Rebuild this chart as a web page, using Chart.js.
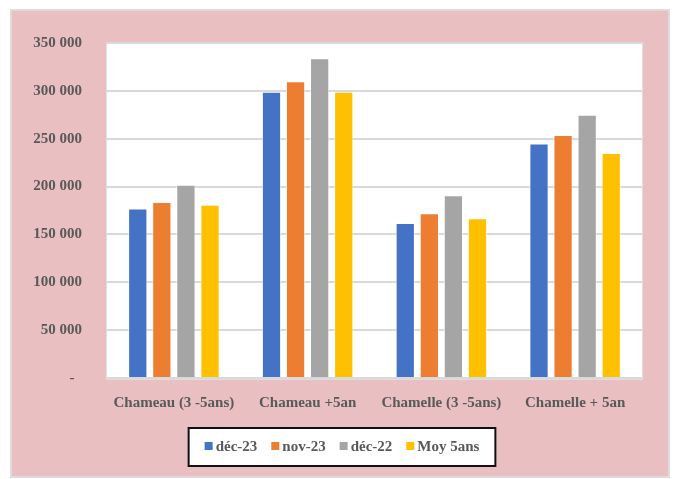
<!DOCTYPE html>
<html>
<head>
<meta charset="utf-8">
<script src="https://cdn.jsdelivr.net/npm/chart.js@4.4.1/dist/chart.umd.min.js"></script>
<style>
  html, body { margin: 0; padding: 0; background: #ffffff; }
  #wrap { width: 674px; height: 479px; position: relative; }
</style>
</head>
<body>
<div id="wrap"><canvas id="chart" width="674" height="479"></canvas></div>
<script>
const categories = ['Chameau (3 -5ans)', 'Chameau +5an', 'Chamelle (3 -5ans)', 'Chamelle + 5an'];
const dec23 = [177000, 299000, 162000, 245000];
const nov23 = [184000, 310000, 172000, 254000];
const dec22 = [202000, 334000, 191000, 275000];
const moy5ans = [181000, 299000, 167000, 235000];
const seriesNames = ['déc-23', 'nov-23', 'déc-22', 'Moy 5ans'];
const colours = ['#4472c4', '#ed7d31', '#a5a5a5', '#ffc000'];

const textColour = '#595959';
const fontFamily = '"Liberation Serif", "Times New Roman", serif';

// pink frame + white plot area
const framePlugin = {
    id: 'frame',
    beforeDraw(chart) {
        const ctx = chart.ctx;
        const area = chart.chartArea;
        ctx.save();
        ctx.fillStyle = '#ffffff';
        ctx.fillRect(0, 0, chart.width, chart.height);
        ctx.fillStyle = '#dcdcdc';
        ctx.fillRect(10, 9, 660, 469);
        ctx.fillStyle = '#e9bfc2';
        ctx.fillRect(12, 11, 656, 465);
        ctx.fillStyle = '#ffffff';
        ctx.fillRect(area.left, area.top, area.right - area.left, area.bottom - area.top + 1);
        ctx.strokeStyle = '#dedede';
        ctx.lineWidth = 1;
        ctx.strokeRect(area.left - 0.5, area.top - 0.5, area.right - area.left + 1, area.bottom - area.top + 2);
        ctx.restore();
    }
};

// boxed legend like the Excel one
const boxLegendPlugin = {
    id: 'boxLegend',
    afterDraw(chart) {
        const ctx = chart.ctx;
        const area = chart.chartArea;
        ctx.save();
        ctx.font = 'bold 15px ' + fontFamily;
        const items = chart.data.datasets.map(ds => ({
            text: ds.label,
            colour: ds.backgroundColor,
            w: ctx.measureText(ds.label).width
        }));
        const marker = 8, gap = 3, spacing = 14;
        let total = 0;
        items.forEach((it, i) => {
            total += marker + gap + it.w + (i < items.length - 1 ? spacing : 0);
        });
        const cx = chart.width / 2 + 5;
        const boxW = total + 32;
        const boxH = 38;
        const boxX = cx - boxW / 2;
        const boxY = area.bottom + 50;
        ctx.fillStyle = '#ffffff';
        ctx.fillRect(boxX, boxY, boxW, boxH);
        ctx.strokeStyle = '#111111';
        ctx.lineWidth = 2;
        ctx.strokeRect(boxX, boxY, boxW, boxH);

        let x = cx - total / 2;
        const cy = boxY + boxH / 2;
        ctx.textBaseline = 'middle';
        ctx.textAlign = 'left';
        items.forEach(it => {
            ctx.fillStyle = it.colour;
            ctx.fillRect(x, cy - marker / 2 - 1, marker, marker);
            x += marker + gap;
            ctx.fillStyle = textColour;
            ctx.fillText(it.text, x, cy);
            x += it.w + spacing;
        });
        ctx.restore();
    }
};

const datasets = [dec23, nov23, dec22, moy5ans].map((values, i) => ({
    label: seriesNames[i],
    data: values,
    backgroundColor: colours[i],
    borderColor: 'rgba(255,255,255,0.7)',
    borderWidth: 1,
    categoryPercentage: 0.72,
    barPercentage: 0.8
}));

new Chart(document.getElementById('chart'), {
    type: 'bar',
    data: { labels: categories, datasets: datasets },
    plugins: [framePlugin, boxLegendPlugin],
    options: {
        responsive: false,
        animation: false,
        devicePixelRatio: 1,
        layout: { padding: { left: 0, right: 32, top: 43, bottom: 0 } },
        plugins: {
            legend: { display: false },
            tooltip: { enabled: false }
        },
        scales: {
            x: {
                grid: { display: false, drawTicks: false },
                border: { display: false },
                ticks: {
                    color: textColour,
                    padding: 16,
                    maxRotation: 0,
                    font: { family: fontFamily, size: 15, weight: 'bold' }
                },
                afterFit(scale) { scale.height = 101; }
            },
            y: {
                min: 0,
                max: 350000,
                grid: { color: '#d9d9d9', lineWidth: 2, drawTicks: false },
                border: { display: false },
                ticks: {
                    stepSize: 50000,
                    color: textColour,
                    padding: 25,
                    font: { family: fontFamily, size: 15, weight: 'bold' },
                    callback: (v) => v === 0 ? '-  ' : v.toLocaleString('fr-FR').replace(/\s/g, ' ')
                },
                afterFit(scale) { scale.width = 107; }
            }
        }
    }
});
</script>
</body>
</html>
